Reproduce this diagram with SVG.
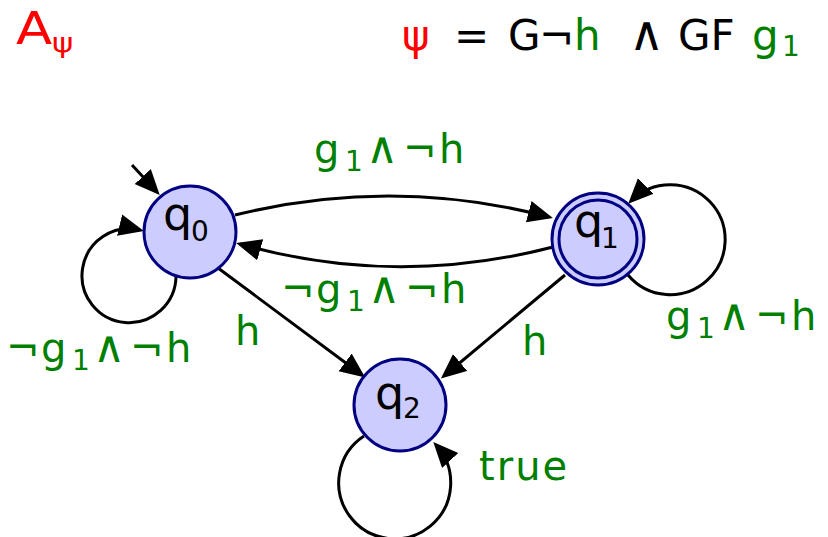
<svg xmlns="http://www.w3.org/2000/svg" width="828" height="537" viewBox="0 0 828 537">
<style>
.node{fill:#ccccff;stroke:#000080;stroke-width:3}
.edge{fill:none;stroke:#000;stroke-width:3}
.lbl{font-family:"DejaVu Sans",sans-serif;fill:#008000;font-size:40px}
.st{font-family:"DejaVu Sans",sans-serif;fill:#000;font-size:46px}
.sub{font-size:28px}
.and{font-size:44px}
</style>
<defs>
<marker id="ah" markerUnits="userSpaceOnUse" markerWidth="28" markerHeight="24" refX="21" refY="11" orient="auto">
<path d="M0,0 L25,11 L0,22 z" fill="#000"/>
</marker>
</defs>
<g id="title">
<text transform="translate(16,44) scale(1.2,1)" font-family="DejaVu Sans,sans-serif" font-size="44" fill="#ff0000">A<tspan font-size="27" dy="8">ψ</tspan></text>
<text y="50" font-family="DejaVu Sans,sans-serif" font-size="42" fill="#000"><tspan x="402" fill="#ff0000">ψ</tspan><tspan x="454">=</tspan><tspan x="508">G</tspan><tspan x="539">¬</tspan><tspan x="574" fill="#008000">h</tspan><tspan x="629" font-size="48">∧</tspan><tspan x="678">GF</tspan><tspan x="752" fill="#008000">g</tspan><tspan x="782" dy="6" font-size="28" fill="#008000">1</tspan></text>
</g>
<g id="connectors">
<path class="edge" d="M132,165 L157,192" marker-end="url(#ah)"/>
<path class="edge" d="M235,215 Q393,176 549,217" marker-end="url(#ah)"/>
<path class="edge" d="M553,247 Q395,288 240,244" marker-end="url(#ah)"/>
<path class="edge" d="M218,268 L362,375" marker-end="url(#ah)"/>
<path class="edge" d="M565,275 L444,376" marker-end="url(#ah)"/>
<path class="edge" d="M176,276 A47,47 0 1 1 140,230" marker-end="url(#ah)"/>
<path class="edge" d="M628,275 A55,55 0 1 0 631,201" marker-end="url(#ah)"/>
<path class="edge" d="M364,436 A56,56 0 1 0 436,445" marker-end="url(#ah)"/>
<text class="lbl" y="163"><tspan x="314">g</tspan><tspan class="sub" x="345" dy="8">1</tspan><tspan class="and" x="366" dy="-8">∧</tspan><tspan x="403">¬</tspan><tspan x="439">h</tspan></text>
<text class="lbl" y="303"><tspan x="281">¬</tspan><tspan x="316">g</tspan><tspan class="sub" x="347" dy="8">1</tspan><tspan class="and" x="368" dy="-8">∧</tspan><tspan x="405">¬</tspan><tspan x="441">h</tspan></text>
<text class="lbl" y="362"><tspan x="6">¬</tspan><tspan x="41">g</tspan><tspan class="sub" x="72" dy="8">1</tspan><tspan class="and" x="93" dy="-8">∧</tspan><tspan x="130">¬</tspan><tspan x="166">h</tspan></text>
<text class="lbl" y="330"><tspan x="666">g</tspan><tspan class="sub" x="697" dy="8">1</tspan><tspan class="and" x="718" dy="-8">∧</tspan><tspan x="755">¬</tspan><tspan x="791">h</tspan></text>
<text class="lbl" x="235" y="345">h</text>
<text class="lbl" x="522" y="355">h</text>
<text class="lbl" x="479" y="480" style="letter-spacing:2px">true</text>
</g>
<g id="q0">
<circle class="node" cx="190" cy="232" r="46"/>
<text class="st" x="163" y="230">q<tspan class="sub" x="191" y="241">0</tspan></text>
</g>
<g id="q1">
<circle class="node" cx="598" cy="239" r="46"/>
<circle class="node" cx="598" cy="239" r="39"/>
<text class="st" x="574" y="237">q<tspan class="sub" x="601" y="248">1</tspan></text>
</g>
<g id="q2">
<circle class="node" cx="400" cy="405" r="46"/>
<text class="st" x="375" y="409">q<tspan class="sub" x="403" y="418">2</tspan></text>
</g>
</svg>
